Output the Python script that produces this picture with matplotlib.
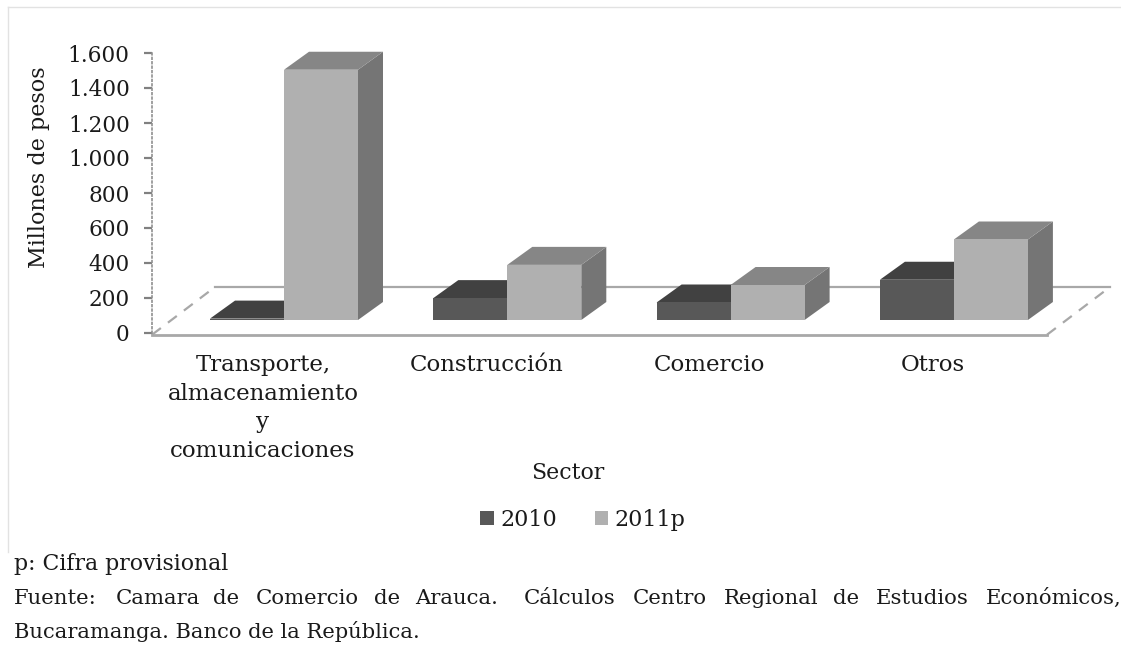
import matplotlib
matplotlib.use('Agg')
import matplotlib.pyplot as plt
from matplotlib.patches import Polygon, Patch
from matplotlib.lines import Line2D

sectores = ['Transporte,\nalmacenamiento\ny\ncomunicaciones', 'Construcción', 'Comercio', 'Otros']
valores_2010 = [8, 125, 100, 230]
valores_2011 = [1430, 315, 200, 460]
y_ticks = [0, 200, 400, 600, 800, 1000, 1200, 1400, 1600]
y_labels = ['0', '200', '400', '600', '800', '1.000', '1.200', '1.400', '1.600']
fuente_palabras = ['Fuente:', 'Camara', 'de', 'Comercio', 'de', 'Arauca.', 'Cálculos', 'Centro',
                   'Regional', 'de', 'Estudios', 'Económicos,']
fuente_x = [14, 116, 213, 256, 374, 415, 524, 633, 724, 833, 876, 986]

W, H = 1121, 648
plt.rcParams['font.family'] = ['DejaVu Serif']

fig = plt.figure(figsize=(W / 100, H / 100), dpi=100)
# ejes en pixeles de la imagen
left, right, top, bottom = 152, 1047, 53, 333
ax = fig.add_axes([left / W, 1 - bottom / H, (right - left) / W, (bottom - top) / H])

px_x = 223.3
px_y = 280 / 1600
ax.set_ylim(0, 1600)
ax.set_xlim((left - 284) / px_x, (right - 284) / px_x)

# profundidad 3D, en unidades de datos
dx = 25 / px_x
dy = 18 / px_y
base = 13 / px_y
ancho = 74 / px_x


def barra(x0, valor, frente, arriba, lado):
    x1 = x0 + ancho
    y0 = base
    y1 = base + valor
    ax.add_patch(Polygon([(x1, y0), (x1 + dx, y0 + dy), (x1 + dx, y1 + dy), (x1, y1)],
                         fc=lado, ec='none', clip_on=False, zorder=3))
    ax.add_patch(Polygon([(x0, y1), (x1, y1), (x1 + dx, y1 + dy), (x0 + dx, y1 + dy)],
                         fc=arriba, ec='none', clip_on=False, zorder=3))
    ax.add_patch(Polygon([(x0, y0), (x1, y0), (x1, y1), (x0, y1)],
                         fc=frente, ec='none', clip_on=False, zorder=3))


for i in range(len(sectores)):
    barra(i - ancho, valores_2010[i], '#585858', '#414141', '#4a4a4a')
    barra(i, valores_2011[i], '#b0b0b0', '#868686', '#757575')

# piso del grafico
xmin, xmax = ax.get_xlim()
fx = 63 / px_x
fy = 46 / px_y
ax.plot([xmin, xmax], [-10, -10], color='#a8a8a8', lw=2, clip_on=False, zorder=1)
ax.plot([xmin + fx, xmax + fx], [fy, fy], color='#a8a8a8', lw=1.6, clip_on=False, zorder=1)
ax.plot([xmin, xmin + fx], [-10, fy], color='#a8a8a8', lw=1.6, ls=(0, (5, 4)), clip_on=False, zorder=1)
ax.plot([xmax, xmax + fx], [-10, fy], color='#a8a8a8', lw=1.6, ls=(0, (5, 4)), clip_on=False, zorder=1)

for s in ['top', 'right', 'bottom']:
    ax.spines[s].set_visible(False)
ax.spines['left'].set_color('#909090')
ax.spines['left'].set_linestyle(':')
ax.spines['left'].set_linewidth(1.2)

ax.set_yticks(y_ticks)
ax.set_yticklabels(y_labels, fontsize=15.6, color='#1a1a1a')
ax.tick_params(axis='y', length=6, width=1.6, color='#808080', pad=10)
ax.set_xticks([i - 21 / px_x for i in range(len(sectores))])
ax.set_xticklabels(sectores, fontsize=16.5, color='#1a1a1a', linespacing=1.4)
ax.tick_params(axis='x', length=0, pad=15)

ax.set_ylabel('Millones de pesos', fontsize=16, color='#1a1a1a')
ax.yaxis.set_label_coords((50 - left) / (right - left), (bottom - 167) / (bottom - top))

fig.text(568 / W, 1 - 473 / H, 'Sector', fontsize=15.8, color='#1a1a1a', ha='center', va='center')

handles = [Patch(fc='#585858', label='2010'), Patch(fc='#b0b0b0', label='2011p')]
fig.legend(handles=handles, loc='center', bbox_to_anchor=(583 / W, 1 - 520 / H), ncol=2,
           frameon=False, fontsize=16, handlelength=0.6, handleheight=0.6,
           handletextpad=0.3, columnspacing=1.7, labelcolor='#1a1a1a')

# borde del recuadro
fig.add_artist(Line2D([8 / W, 8 / W], [1 - 552 / H, 1 - 7 / H], color='#e2e2e2', lw=1))
fig.add_artist(Line2D([8 / W, 1], [1 - 7 / H, 1 - 7 / H], color='#e2e2e2', lw=1))

# notas
fig.text(14 / W, 1 - 570 / H, 'p: Cifra provisional', fontsize=15.8, color='#1a1a1a', va='baseline')
for palabra, x in zip(fuente_palabras, fuente_x):
    fig.text(x / W, 1 - 604 / H, palabra, fontsize=15.3, color='#1a1a1a', va='baseline')
fig.text(14 / W, 1 - 638 / H, 'Bucaramanga. Banco de la República.', fontsize=15.1, color='#1a1a1a', va='baseline')

fig.savefig('out.png', dpi=100)
